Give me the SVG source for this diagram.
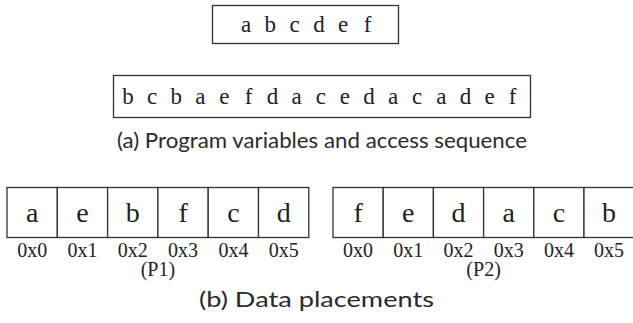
<svg xmlns="http://www.w3.org/2000/svg" width="633" height="323" viewBox="0 0 633 323">
<style>
.box{fill:#fff;stroke:#333;stroke-width:1.3}
.v{font-family:"Liberation Serif",serif;font-size:23px;fill:#222;text-anchor:middle}
.c{font-family:"Liberation Serif",serif;font-size:28px;fill:#222;text-anchor:middle}
.a{font-family:"Liberation Serif",serif;font-size:20px;fill:#222;text-anchor:middle}
.cap{font-family:Lato,"Open Sans",sans-serif;font-size:21px;fill:#2a2a2a}
</style>
<rect width="633" height="323" fill="#fff"/>
<g id="vars">
<rect class="box" x="212.5" y="5.5" width="186" height="38"/>
<text class="v" y="32"><tspan x="246">a</tspan><tspan x="270.3">b</tspan><tspan x="294.6">c</tspan><tspan x="318.9">d</tspan><tspan x="343.2">e</tspan><tspan x="367.5">f</tspan></text>
</g>
<g id="sequence">
<rect class="box" x="113.5" y="75.5" width="417" height="42"/>
<text class="v" y="104"><tspan x="128">b</tspan><tspan x="152.1">c</tspan><tspan x="176.2">b</tspan><tspan x="200.3">a</tspan><tspan x="224.4">e</tspan><tspan x="248.5">f</tspan><tspan x="272.6">d</tspan><tspan x="296.7">a</tspan><tspan x="320.8">c</tspan><tspan x="344.9">e</tspan><tspan x="369">d</tspan><tspan x="393.1">a</tspan><tspan x="417.2">c</tspan><tspan x="441.3">a</tspan><tspan x="465.4">d</tspan><tspan x="489.5">e</tspan><tspan x="512.6">f</tspan></text>
</g>
<text class="cap" x="117" y="148" textLength="410" lengthAdjust="spacingAndGlyphs">(a) Program variables and access sequence</text>
<g id="p1">
<rect class="box" x="7" y="187.5" width="50.3" height="50"/>
<rect class="box" x="57.3" y="187.5" width="50.3" height="50"/>
<rect class="box" x="107.6" y="187.5" width="50.3" height="50"/>
<rect class="box" x="157.9" y="187.5" width="50.3" height="50"/>
<rect class="box" x="208.2" y="187.5" width="50.3" height="50"/>
<rect class="box" x="258.5" y="187.5" width="50.3" height="50"/>
<text class="c" y="222"><tspan x="32.2">a</tspan><tspan x="82.5">e</tspan><tspan x="132.8">b</tspan><tspan x="183.1">f</tspan><tspan x="233.4">c</tspan><tspan x="283.7">d</tspan></text>
<text class="a" y="257"><tspan x="32.2">0x0</tspan><tspan x="82.5">0x1</tspan><tspan x="132.8">0x2</tspan><tspan x="183.1">0x3</tspan><tspan x="233.4">0x4</tspan><tspan x="283.7">0x5</tspan></text>
<text class="a" x="157.9" y="276">(P1)</text>
</g>
<g id="p2">
<rect class="box" x="333" y="187.5" width="50.2" height="50"/>
<rect class="box" x="383.2" y="187.5" width="50.2" height="50"/>
<rect class="box" x="433.4" y="187.5" width="50.2" height="50"/>
<rect class="box" x="483.6" y="187.5" width="50.2" height="50"/>
<rect class="box" x="533.8" y="187.5" width="50.2" height="50"/>
<rect class="box" x="584" y="187.5" width="50.2" height="50"/>
<text class="c" y="222"><tspan x="358.1">f</tspan><tspan x="408.3">e</tspan><tspan x="458.5">d</tspan><tspan x="508.7">a</tspan><tspan x="558.9">c</tspan><tspan x="609.1">b</tspan></text>
<text class="a" y="257"><tspan x="358.1">0x0</tspan><tspan x="408.3">0x1</tspan><tspan x="458.5">0x2</tspan><tspan x="508.7">0x3</tspan><tspan x="558.9">0x4</tspan><tspan x="609.1">0x5</tspan></text>
<text class="a" x="483.6" y="276">(P2)</text>
</g>
<text class="cap" x="199" y="307" textLength="235" lengthAdjust="spacingAndGlyphs">(b) Data placements</text>
</svg>
